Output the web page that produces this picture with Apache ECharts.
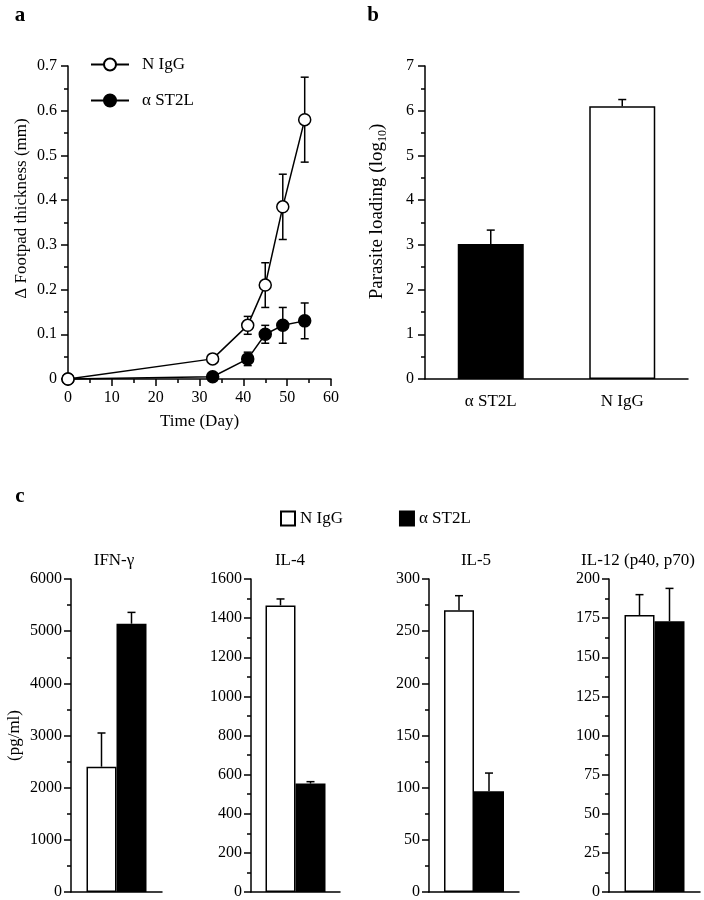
<!DOCTYPE html>
<html><head><meta charset="utf-8">
<script src="https://cdn.jsdelivr.net/npm/echarts@6/dist/echarts.min.js"></script>
<style>body{margin:0;background:#fff;width:704px;height:900px;position:relative;overflow:hidden}
.p{position:absolute}</style></head>
<body>
<div id="a" class="p" style="left:0;top:0;width:352px;height:450px"></div>
<div id="b" class="p" style="left:352px;top:0;width:352px;height:450px"></div>
<div id="c" class="p" style="left:0;top:460px;width:704px;height:440px"></div>
<script>
const FONT = '"Liberation Serif", "Times New Roman", serif';
// ---- Panel a data ----
const days = [0, 33, 41, 45, 49, 54];
const nIgGFoot = [0, 0.045, 0.12, 0.21, 0.385, 0.58];
const nIgGFootErr = [0, 0, 0.02, 0.05, 0.073, 0.095];
const st2lFoot = [0, 0.005, 0.045, 0.10, 0.12, 0.13];
const st2lFootErr = [0, 0, 0.015, 0.02, 0.04, 0.04];
// ---- Panel b data ----
const bCats = ['α ST2L', 'N IgG'];
const bVals = [3.02, 6.1];
const bErr = [0.31, 0.15];
// ---- Panel c data ----
const cytokines = ['IFN-γ', 'IL-4', 'IL-5', 'IL-12 (p40, p70)'];
const cNIgG = [2402, 1465, 270, 177];
const cNIgGErr = [646, 33, 14, 13];
const cST2L = [5143, 554, 96.5, 173];
const cST2LErr = [217, 10, 17.5, 21];
const cMax = [6000, 1600, 300, 200];
const cInterval = [1000, 200, 50, 25];

const LW = 1.5;
const plain = v => String(Math.round(v * 1000) / 1000);
const axisCommon = {
  axisLine: {show: true, lineStyle: {color: '#000', width: LW}},
  axisTick: {show: true, length: 7, lineStyle: {color: '#000', width: LW}},
  minorTick: {show: true, splitNumber: 2, length: 4, lineStyle: {color: '#000', width: LW}},
  splitLine: {show: false},
  nameMoveOverlap: false,
  axisLabel: {color: '#000', fontFamily: FONT, fontSize: 16, margin: 11},
  nameTextStyle: {color: '#000', fontFamily: FONT, fontSize: 17}
};
function ax(extra) {
  const o = Object.assign({}, JSON.parse(JSON.stringify(axisCommon)), extra);
  if (o.axisLabel && o.type === 'value') o.axisLabel.formatter = plain;
  return o;
}
const st = {stroke: '#000', lineWidth: LW};

function errBoth(capW) {
  return function (params, api) {
    const x = api.value(0), y = api.value(1), e = api.value(2);
    if (!(e > 0)) return;
    const t = api.coord([x, y + e]), b = api.coord([x, y - e]), h = capW / 2;
    return {type: 'group', children: [
      {type: 'line', shape: {x1: t[0], y1: t[1], x2: b[0], y2: b[1]}, style: st},
      {type: 'line', shape: {x1: t[0] - h, y1: t[1], x2: t[0] + h, y2: t[1]}, style: st},
      {type: 'line', shape: {x1: b[0] - h, y1: b[1], x2: b[0] + h, y2: b[1]}, style: st}
    ]};
  };
}
function errUp(capW, dx) {
  return function (params, api) {
    const x = api.value(0), y = api.value(1), e = api.value(2);
    if (!(e > 0)) return;
    const base = api.coord([x, y]), t = api.coord([x, y + e]), h = capW / 2;
    const px = base[0] + dx;
    return {type: 'group', children: [
      {type: 'line', shape: {x1: px, y1: base[1], x2: px, y2: t[1]}, style: st},
      {type: 'line', shape: {x1: px - h, y1: t[1], x2: px + h, y2: t[1]}, style: st}
    ]};
  };
}
function letter(t, x, y) {
  return {type: 'text', style: {text: t, x: x, y: y, textAlign: 'center', textVerticalAlign: 'middle',
    font: 'bold 21px ' + FONT, fill: '#000'}};
}

// ---------- Panel a ----------
const chA = echarts.init(document.getElementById('a'));
chA.setOption({
  animation: false,
  graphic: [letter('a', 20, 16)],
  legend: {left: 90, top: 56, padding: 0, orient: 'vertical', itemWidth: 38, itemHeight: 15, itemGap: 19,
    data: ['N IgG', 'α ST2L'],
    textStyle: {color: '#000', fontFamily: FONT, fontSize: 17, padding: [0, 0, 0, 8]}},
  grid: {left: 68, top: 66, width: 263, height: 313, outerBoundsMode: 'none'},
  xAxis: ax({type: 'value', min: 0, max: 60, interval: 10, name: 'Time (Day)',
    nameLocation: 'middle', nameGap: 34}),
  yAxis: ax({type: 'value', min: 0, max: 0.7, interval: 0.1, name: 'Δ Footpad thickness (mm)',
    nameLocation: 'middle', nameGap: 38,
    nameTextStyle: {color: '#000', fontFamily: FONT, fontSize: 17, padding: [0, 0, 0, 28]}}),
  series: [
    {type: 'custom', z: 1, renderItem: errBoth(8), silent: true,
      data: days.map((d, i) => [d, nIgGFoot[i], nIgGFootErr[i]])},
    {type: 'custom', z: 1, renderItem: errBoth(8), silent: true,
      data: days.map((d, i) => [d, st2lFoot[i], st2lFootErr[i]])},
    {type: 'line', name: 'α ST2L', z: 2, clip: false, symbol: 'circle', symbolSize: 12,
      lineStyle: {color: '#000', width: LW},
      itemStyle: {color: '#000', borderColor: '#000', borderWidth: LW},
      data: days.map((d, i) => [d, st2lFoot[i]])},
    {type: 'line', name: 'N IgG', z: 3, clip: false, symbol: 'circle', symbolSize: 12,
      lineStyle: {color: '#000', width: LW},
      itemStyle: {color: '#fff', borderColor: '#000', borderWidth: LW},
      data: days.map((d, i) => [d, nIgGFoot[i]])}
  ]
});

// ---------- Panel b ----------
const chB = echarts.init(document.getElementById('b'));
chB.setOption({
  animation: false,
  graphic: [letter('b', 21, 16)],
  grid: {left: 73, top: 66, width: 263, height: 313, outerBoundsMode: 'none'},
  xAxis: ax({type: 'category', data: bCats, axisTick: {show: false}, minorTick: {show: false},
    axisLabel: {color: '#000', fontFamily: FONT, fontSize: 17, margin: 14}}),
  yAxis: ax({type: 'value', min: 0, max: 7, interval: 1,
    name: 'Parasite loading (log{sub|10})', nameLocation: 'middle', nameGap: 36,
    nameTextStyle: {color: '#000', fontFamily: FONT, fontSize: 19, lineHeight: 24, padding: [0, 0, 0, 22],
      rich: {sub: {fontFamily: FONT, fontSize: 12, lineHeight: 12, verticalAlign: 'bottom', color: '#000'}}}}),
  series: [
    {type: 'bar', barWidth: 66, z: 2,
      data: bVals.map((v, i) => ({value: v, itemStyle: i === 0
        ? {color: '#000', borderColor: '#000', borderWidth: LW}
        : {color: '#fff', borderColor: '#000', borderWidth: LW}}))},
    {type: 'custom', z: 1, renderItem: errUp(8, 0), silent: true,
      data: bVals.map((v, i) => [i, v, bErr[i]])}
  ]
});

// ---------- Panel c ----------
const chC = echarts.init(document.getElementById('c'));
const gridLefts = [71, 251, 429, 609];
const gridWidths = [91, 89, 90, 91];
const titleX = [114, 290, 476, 638];
const BW = 30;
const grids = [], xAxes = [], yAxes = [], series = [], graphics = [letter('c', 20, 37)];
cytokines.forEach((name, k) => {
  grids.push({left: gridLefts[k], top: 119, width: gridWidths[k], height: 313, outerBoundsMode: 'none'});
  xAxes.push(ax({type: 'category', gridIndex: k, data: [name], axisTick: {show: false},
    minorTick: {show: false}, axisLabel: {show: false}}));
  yAxes.push(ax({type: 'value', gridIndex: k, min: 0, max: cMax[k], interval: cInterval[k],
    axisLabel: {color: '#000', fontFamily: FONT, fontSize: 16, margin: 9},
    name: k === 0 ? '(pg/ml)' : '', nameLocation: 'middle', nameGap: 48}));
  series.push({type: 'bar', name: 'N IgG', xAxisIndex: k, yAxisIndex: k, barWidth: BW, barGap: '0%', z: 2,
    itemStyle: {color: '#fff', borderColor: '#000', borderWidth: LW}, data: [cNIgG[k]]});
  series.push({type: 'bar', name: 'α ST2L', xAxisIndex: k, yAxisIndex: k, barWidth: BW, barGap: '0%', z: 2,
    itemStyle: {color: '#000', borderColor: '#000', borderWidth: LW}, data: [cST2L[k]]});
  series.push({type: 'custom', xAxisIndex: k, yAxisIndex: k, z: 1, silent: true,
    renderItem: errUp(8, -BW / 2), data: [[0, cNIgG[k], cNIgGErr[k]]]});
  series.push({type: 'custom', xAxisIndex: k, yAxisIndex: k, z: 1, silent: true,
    renderItem: errUp(8, BW / 2), data: [[0, cST2L[k], cST2LErr[k]]]});
  graphics.push({type: 'text', style: {text: name, x: titleX[k], y: 101, textAlign: 'center',
    textVerticalAlign: 'middle', font: '17px ' + FONT, fill: '#000'}});
});
chC.setOption({
  animation: false,
  graphic: graphics,
  legend: {left: 280, top: 50, padding: 0, itemWidth: 14, itemHeight: 14, itemGap: 56, icon: 'rect',
    data: ['N IgG', 'α ST2L'],
    textStyle: {color: '#000', fontFamily: FONT, fontSize: 17}},
  grid: grids, xAxis: xAxes, yAxis: yAxes, series: series
});
</script>
</body></html>
